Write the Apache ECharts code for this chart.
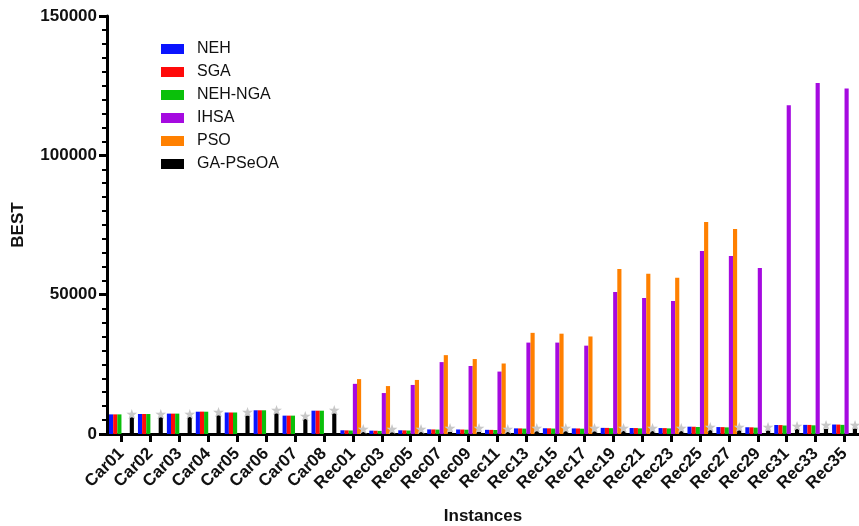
<!DOCTYPE html>
<html>
<head>
<meta charset="utf-8">
<script src="https://cdn.jsdelivr.net/npm/echarts@6/dist/echarts.min.js"></script>
<style>
html,body{margin:0;padding:0;background:#fff;}
#chart{width:859px;height:526px;}
</style>
</head>
<body>
<div id="chart"></div>
<script>
var categories = ['Car01','Car02','Car03','Car04','Car05','Car06','Car07','Car08',
  'Rec01','Rec03','Rec05','Rec07','Rec09','Rec11','Rec13','Rec15','Rec17','Rec19',
  'Rec21','Rec23','Rec25','Rec27','Rec29','Rec31','Rec33','Rec35'];
var seriesNames = ['NEH','SGA','NEH-NGA','IHSA','PSO','GA-PSeOA'];
var neh = [7040,7170,7310,8000,7720,8510,6590,8370,
  1330,1200,1330,1650,1620,1500,2020,2060,2010,2200,2150,2130,2620,2490,2420,3220,3280,3400];
var sga = [7040,7170,7310,8030,7720,8510,6590,8370,
  1300,1170,1300,1630,1600,1480,2000,2040,1990,2190,2130,2110,2600,2470,2390,3200,3260,3380];
var nehNga = [7040,7166,7312,8003,7720,8505,6590,8366,
  1250,1110,1245,1570,1540,1430,1935,1950,1905,2095,2020,2015,2515,2375,2290,3045,3115,3280];
var ihsa = [null,null,null,null,null,null,null,null,
  18000,14700,17600,25800,24400,22400,32800,32800,31700,51000,48800,47700,65700,63900,59600,118000,126000,124000];
var pso = [null,null,null,null,null,null,null,null,
  19700,17200,19400,28300,26900,25300,36300,36000,35000,59200,57500,56100,76100,73600,null,null,null,null];
var gaPseoa = [6000,6000,6100,6700,6600,7400,5400,7400,
  700,600,700,800,800,750,1000,1000,950,1100,1050,1050,1400,1300,1250,1800,1850,1950];
var yTicks = {min:0, max:150000, interval:50000};

var colors = ['#0a14ff','#ff0a0a','#0ac00a','#a50ae0','#ff8000','#000000'];
var dataList = [neh, sga, nehNga, ihsa, pso, gaPseoa];

var series = seriesNames.map(function(name, i){
  var s = {
    name: name,
    type: 'bar',
    data: dataList[i],
    barGap: '0%',
    barCategoryGap: '14%',
    itemStyle: {color: colors[i]}
  };
  if (i === 5) {
    s.label = {
      show: true,
      position: 'top',
      distance: -5,
      formatter: '\u2605',
      color: '#c8c8c8',
      fontSize: 14,
      fontFamily: 'DejaVu Sans'
    };
  }
  return s;
});

var chart = echarts.init(document.getElementById('chart'));
chart.setOption({
  animation: false,
  color: colors,
  textStyle: {fontFamily: 'Liberation Sans, Arial, sans-serif'},
  grid: {left: 107, right: 0, top: 16, bottom: 92, containLabel: false, outerBoundsMode: 'none'},
  legend: {
    orient: 'vertical',
    left: 156,
    top: 35,
    itemWidth: 23,
    itemHeight: 10,
    itemGap: 5,
    icon: 'rect',
    data: seriesNames,
    textStyle: {fontSize: 16, color: '#111', lineHeight: 18, padding: [0,0,0,8]}
  },
  xAxis: {
    type: 'category',
    data: categories,
    name: 'Instances',
    nameLocation: 'middle',
    nameGap: 74,
    nameTextStyle: {fontSize: 17, fontWeight: 'bold', color: '#111'},
    axisLine: {show: true, onZero: false, lineStyle: {color: '#000', width: 3}},
    axisTick: {show: true, interval: 0, alignWithLabel: true, length: 8, lineStyle: {color: '#000', width: 3}},
    axisLabel: {rotate: 45, fontSize: 17, fontWeight: 'bold', color: '#111', margin: 17, interval: 0}
  },
  yAxis: {
    type: 'value',
    min: yTicks.min,
    max: yTicks.max,
    interval: yTicks.interval,
    name: 'BEST',
    nameLocation: 'middle',
    nameGap: 80,
    nameTextStyle: {fontSize: 17, fontWeight: 'bold', color: '#111'},
    axisLine: {show: true, lineStyle: {color: '#000', width: 3}},
    axisTick: {show: true, length: 8, lineStyle: {color: '#000', width: 3}},
    minorTick: {show: true, splitNumber: 10, length: 5, lineStyle: {color: '#000', width: 2}},
    splitLine: {show: false},
    axisLabel: {fontSize: 17, fontWeight: 'bold', color: '#111', margin: 10,
      formatter: function(v){ return String(v); }}
  },
  series: series
});
</script>
</body>
</html>
